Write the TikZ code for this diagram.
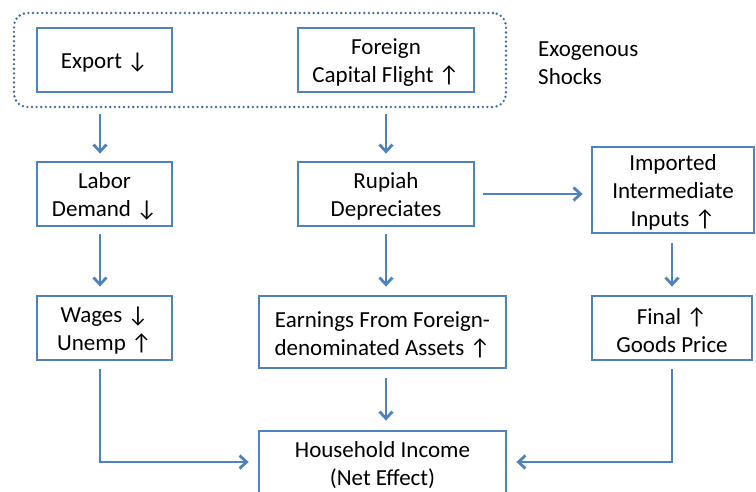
\documentclass[tikz,border=0pt]{standalone}
\usepackage{fontspec}
\setmainfont{Carlito}
\usetikzlibrary{arrows.meta,fit}
\definecolor{boxblue}{HTML}{4F81BD}
\definecolor{dotblue}{HTML}{41689C}
\newcommand\mybox[5]{%
  \node[box, minimum width=#3, minimum height=#4] (#1) at (#2) {};
  \node[txt] (#1-t) at ([yshift=-2.5pt]#1.center) {#5};}
\begin{document}
\begin{tikzpicture}[x=1pt,y=-1pt,
  txt/.style={font=\fontsize{23}{28}\selectfont, inner sep=0pt, align=center},
  box/.style={draw=boxblue, line width=2.8pt, rectangle, inner sep=0pt},
  arr/.style={draw=boxblue, line width=2.8pt, -{Straight Barb[length=7pt,width=13pt]}}]
\clip (0,0) rectangle (756,492);
\useasboundingbox (0,0) rectangle (756,492);
\mybox{export}{104.5,60}{135pt}{64pt}{Export ↓}
\mybox{foreign}{386,60}{176pt}{64pt}{Foreign\\Capital Flight ↑}
\node[draw=dotblue, line width=2.6pt, line cap=round, dash pattern=on 0pt off 4.6pt, rounded corners=13pt, minimum width=492pt, minimum height=94pt, inner sep=0pt] (exo) at (260,60) {};
\node[txt, anchor=west, align=left] (shock) at (538,63) {Exogenous\\Shocks};
\mybox{labor}{104.5,194}{135pt}{64pt}{Labor\\Demand ↓}
\mybox{rupiah}{386,194}{176pt}{64pt}{Rupiah\\Depreciates}
\mybox{imported}{673,190}{162pt}{86pt}{Imported\\Intermediate\\Inputs ↑}
\mybox{wages}{104.5,328}{135pt}{64pt}{Wages ↓\\Unemp ↑}
\mybox{earnings}{382.5,332}{247pt}{72pt}{Earnings From Foreign-\\denominated Assets ↑}
\mybox{final}{672,328}{160pt}{64pt}{Final ↑\\Goods Price}
\mybox{household}{382.5,463}{247pt}{64pt}{Household Income\\(Net Effect)}
% connectors
\draw[arr, shorten <=6pt, shorten >=7pt] ([xshift=-4.5pt]exo.south -| export.south) -- ([xshift=-4.5pt]labor.north);
\draw[arr, shorten <=6pt, shorten >=7pt] (exo.south -| foreign.south) -- (rupiah.north);
\draw[arr, shorten <=7pt, shorten >=8pt] ([xshift=-4.5pt]labor.south) -- ([xshift=-4.5pt]wages.north);
\draw[arr, shorten <=7pt, shorten >=8pt] (rupiah.south) -- (rupiah.south |- earnings.north);
\draw[arr, shorten <=8pt, shorten >=8pt] (rupiah.east) -- (rupiah.east -| imported.west);
\draw[arr, shorten <=9pt, shorten >=8pt] ([xshift=-1pt]imported.south) -- ([xshift=-1pt]imported.south |- final.north);
\draw[arr, shorten <=9pt, shorten >=9pt] (rupiah.south |- earnings.south) -- (rupiah.south |- household.north);
\draw[arr, shorten <=8pt, shorten >=9pt] ([xshift=-4.5pt]wages.south) |- ([yshift=1pt]household.west);
\draw[arr, shorten <=8pt, shorten >=9pt] (final.south) |- ([yshift=1pt]household.east);
\end{tikzpicture}
\end{document}
